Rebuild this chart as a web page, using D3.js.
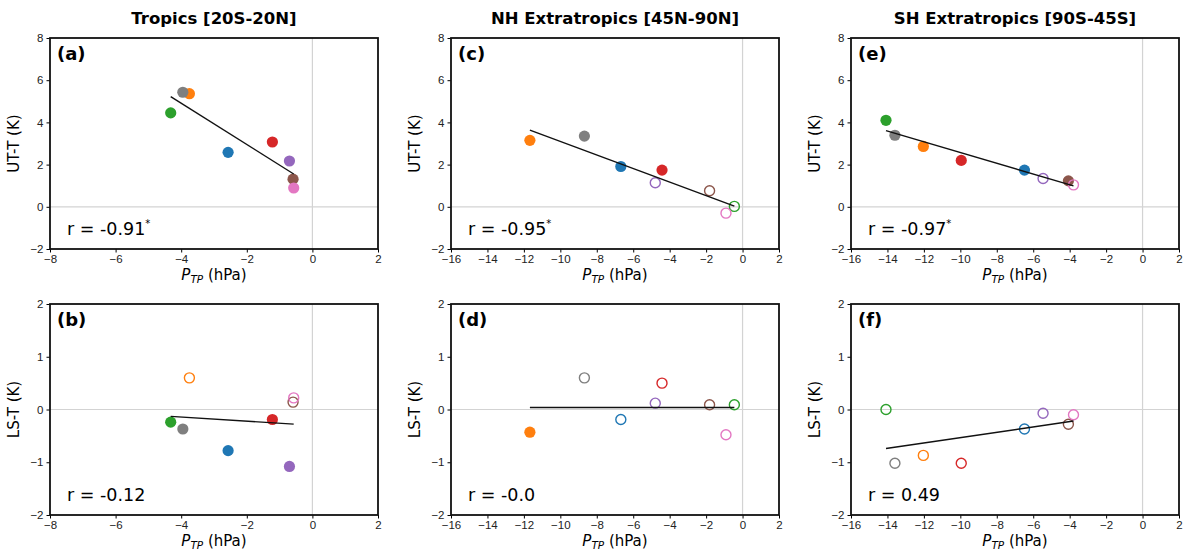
<!DOCTYPE html>
<html>
<head>
<meta charset="utf-8">
<script src="https://cdn.jsdelivr.net/npm/d3@7"></script>
<style>
  body { margin: 0; background: #fff; }
  svg { font-family: "DejaVu Sans", sans-serif; }
  .axis text { font-size: 11.5px; fill: #222; }
  .axis path, .axis line { stroke: #000; }
</style>
</head>
<body>
<div id="chart"></div>
<script>
// model colours (tab10 order used in the figure)
const colors = ["#1f77b4", "#ff7f0e", "#2ca02c", "#d62728", "#9467bd", "#8c564b", "#e377c2", "#7f7f7f"];

// tropopause pressure change per region (same x for both rows)
const xTrop = [-2.57, -3.75, -4.32, -1.22, -0.70, -0.59, -0.57, -3.95];
const xNH   = [-6.68, -11.67, -0.45, -4.42, -4.79, -1.81, -0.91, -8.68];
const xSH   = [-6.48, -12.03, -14.08, -9.95, -5.46, -4.07, -3.79, -13.59];

// upper troposphere temperature change
const utTrop = [2.58, 5.36, 4.45, 3.07, 2.17, 1.31, 0.89, 5.43];
const utNH   = [1.91, 3.15, 0.02, 1.74, 1.14, 0.76, -0.30, 3.35];
const utSH   = [1.74, 2.86, 4.10, 2.20, 1.34, 1.23, 1.04, 3.39];

// lower stratosphere temperature change
const lsTrop = [-0.78, 0.60, -0.24, -0.19, -1.08, 0.14, 0.22, -0.37];
const lsNH   = [-0.19, -0.43, 0.09, 0.50, 0.12, 0.09, -0.48, 0.60];
const lsSH   = [-0.37, -0.87, 0.00, -1.02, -0.07, -0.28, -0.10, -1.02];

// filled marker = 1, open marker = 0
const utTropFill = [1, 1, 1, 1, 1, 1, 1, 1];
const lsTropFill = [1, 0, 1, 1, 1, 0, 0, 1];
const utNHFill   = [1, 1, 0, 1, 0, 0, 0, 1];
const lsNHFill   = [0, 1, 0, 0, 0, 0, 0, 0];
const utSHFill   = [1, 1, 1, 1, 0, 1, 0, 1];
const lsSHFill   = [0, 0, 0, 0, 0, 0, 0, 0];

const titles = ["Tropics [20S-20N]", "NH Extratropics [45N-90N]", "SH Extratropics [90S-45S]"];
const xDomains = [[-8, 2], [-16, 2], [-16, 2]];
const xTickVals = [d3.range(-8, 3, 2), d3.range(-16, 3, 2), d3.range(-16, 3, 2)];
const rLabels = [["-0.91", true], ["-0.12", false], ["-0.95", true], ["-0.0", false], ["-0.97", true], ["0.49", false]];

const panels = [
    {col: 0, row: 0, label: "(a)", x: xTrop, y: utTrop, fill: utTropFill, r: rLabels[0]},
    {col: 0, row: 1, label: "(b)", x: xTrop, y: lsTrop, fill: lsTropFill, r: rLabels[1]},
    {col: 1, row: 0, label: "(c)", x: xNH, y: utNH, fill: utNHFill, r: rLabels[2]},
    {col: 1, row: 1, label: "(d)", x: xNH, y: lsNH, fill: lsNHFill, r: rLabels[3]},
    {col: 2, row: 0, label: "(e)", x: xSH, y: utSH, fill: utSHFill, r: rLabels[4]},
    {col: 2, row: 1, label: "(f)", x: xSH, y: lsSH, fill: lsSHFill, r: rLabels[5]}
];

const W = 1194, H = 553;
const lefts = [50, 451, 851];
const tops = [38, 304];
const pw = 328, ph = 211;

const svg = d3.select("#chart").append("svg")
    .attr("width", W)
    .attr("height", H);

// column titles
titles.forEach(function(t, i) {
    svg.append("text")
        .attr("x", lefts[i] + pw / 2)
        .attr("y", 24)
        .attr("text-anchor", "middle")
        .style("font-size", "16.5px")
        .style("font-weight", "bold")
        .text(t);
});

panels.forEach(function(p) {
    let g = svg.append("g")
        .attr("transform", `translate(${lefts[p.col]},${tops[p.row]})`);

    let xScale = d3.scaleLinear().domain(xDomains[p.col]).range([0, pw]);
    let yScale = d3.scaleLinear()
        .domain(p.row == 0 ? [-2, 8] : [-2, 2])
        .range([ph, 0]);
    let yTicks = p.row == 0 ? d3.range(-2, 9, 2) : d3.range(-2, 3, 1);

    let fmt = d => (d < 0 ? "\u2212" + Math.abs(d) : "" + d);

    // zero lines
    g.append("line")
        .attr("x1", xScale(0)).attr("x2", xScale(0))
        .attr("y1", 0).attr("y2", ph)
        .attr("stroke", "#d3d3d3").attr("stroke-width", 1.2);
    g.append("line")
        .attr("x1", 0).attr("x2", pw)
        .attr("y1", yScale(0)).attr("y2", yScale(0))
        .attr("stroke", "#d3d3d3").attr("stroke-width", 1.2);

    // points
    let pts = p.x.map((d, i) => ({x: d, y: p.y[i], c: colors[i], f: p.fill[i]}));
    g.selectAll(".point")
        .data(pts)
        .enter().append("circle")
        .attr("class", "point")
        .attr("cx", d => xScale(d.x))
        .attr("cy", d => yScale(d.y))
        .attr("r", d => d.f ? 5.6 : 5.0)
        .attr("fill", d => d.f ? d.c : "none")
        .attr("stroke", d => d.c)
        .attr("stroke-width", d => d.f ? 0 : 1.4);

    // least squares fit line
    let mx = d3.mean(p.x), my = d3.mean(p.y);
    let sxy = d3.sum(p.x, (d, i) => (d - mx) * (p.y[i] - my));
    let sxx = d3.sum(p.x, d => (d - mx) * (d - mx));
    let slope = sxy / sxx, icpt = my - slope * mx;
    let ext = d3.extent(p.x);
    g.append("line")
        .attr("x1", xScale(ext[0])).attr("y1", yScale(icpt + slope * ext[0]))
        .attr("x2", xScale(ext[1])).attr("y2", yScale(icpt + slope * ext[1]))
        .attr("stroke", "#111").attr("stroke-width", 1.4);

    // axes
    g.append("g")
        .attr("class", "axis")
        .attr("transform", `translate(0,${ph})`)
        .call(d3.axisBottom(xScale).tickValues(xTickVals[p.col]).tickFormat(fmt).tickSize(3.5).tickPadding(2))
        .call(a => a.select(".domain").remove());
    g.append("g")
        .attr("class", "axis")
        .call(d3.axisLeft(yScale).tickValues(yTicks).tickFormat(fmt).tickSize(3.5).tickPadding(3))
        .call(a => a.select(".domain").remove());

    // frame
    g.append("rect")
        .attr("width", pw).attr("height", ph)
        .attr("fill", "none").attr("stroke", "#111").attr("stroke-width", 1.8);

    // panel label
    g.append("text")
        .attr("x", 7).attr("y", 22)
        .style("font-size", "18px").style("font-weight", "bold")
        .text(p.label);

    // correlation text
    let rt = g.append("text")
        .attr("x", 17).attr("y", ph - 14)
        .style("font-size", "17.5px")
        .text("r = " + p.r[0]);
    if (p.r[1]) {
        rt.append("tspan").attr("dy", -8).style("font-size", "10px").text("*");
    }

    // axis titles
    g.append("text")
        .attr("transform", `translate(-31,${ph / 2}) rotate(-90)`)
        .attr("text-anchor", "middle")
        .style("font-size", "15px")
        .text(p.row == 0 ? "UT-T (K)" : "LS-T (K)");
    let xl = g.append("text")
        .attr("x", pw / 2).attr("y", ph + 31)
        .attr("text-anchor", "middle")
        .style("font-size", "15px");
    xl.append("tspan").style("font-style", "italic").text("P");
    xl.append("tspan").attr("dy", 3).style("font-style", "italic").style("font-size", "10.5px").text("TP");
    xl.append("tspan").attr("dy", -3).text(" (hPa)");
});
</script>
</body>
</html>
